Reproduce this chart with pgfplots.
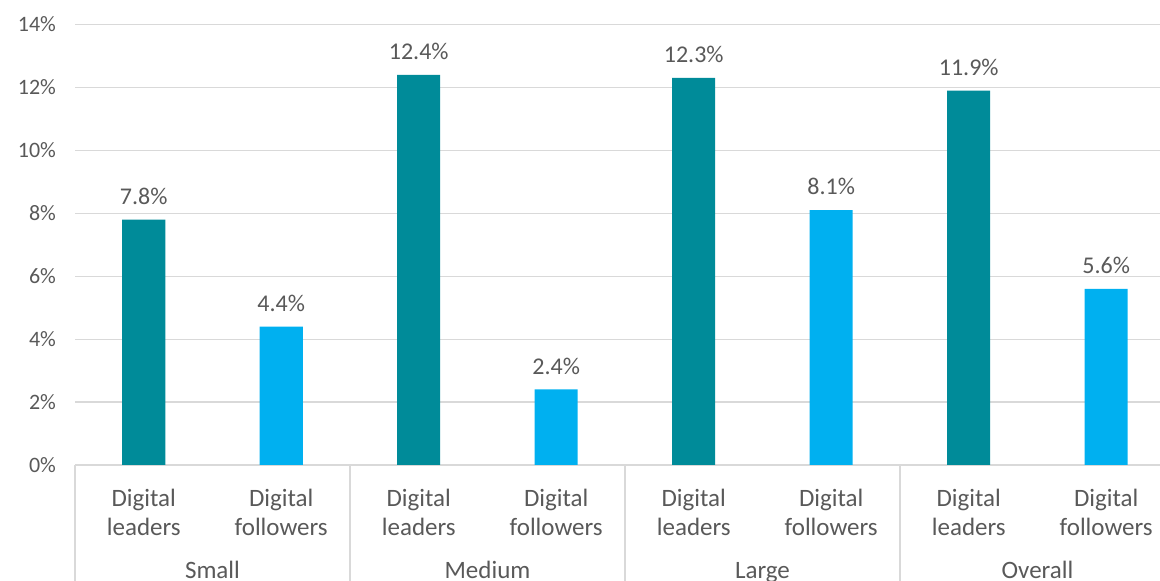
\documentclass[border=0pt]{standalone}
\usepackage{pgfplots}
\pgfplotsset{compat=1.18}
\usepackage{fontspec}
\setmainfont{Carlito}
\definecolor{teal1}{HTML}{008B99}
\definecolor{lblue}{HTML}{00B0F0}
\definecolor{gridc}{HTML}{D9D9D9}
\definecolor{txt}{HTML}{595959}
\begin{document}
\begin{tikzpicture}
\begin{axis}[
  at={(37.5pt,58pt)}, anchor=south west,
  scale only axis,
  width=542.5pt, height=220.25pt,
  xmin=-0.5, xmax=7.391,
  ymin=0, ymax=14,
  ytick={0,2,...,14},
  yticklabel={\pgfmathprintnumber{\tick}\%},
  /pgf/number format/assume math mode=true,
  yticklabel style={font=\fontsize{11}{13}\selectfont, text=txt, anchor=east, xshift=-6pt},
  ymajorgrids, grid style={gridc, line width=0.6pt},
  major tick length=0pt,
  axis x line*=bottom, axis y line*=left,
  x axis line style={gridc, line width=0.8pt, -},
  y axis line style={draw=none},
  xtick={0,...,7},
  xticklabels={{Digital\\leaders},{Digital\\followers},{Digital\\leaders},{Digital\\followers},{Digital\\leaders},{Digital\\followers},{Digital\\leaders},{Digital\\followers}},
  xticklabel style={font=\fontsize{12.5}{14.5}\selectfont, text=txt, align=center, anchor=north, yshift=-8.5pt},
  ybar, bar width=21.5pt, bar shift=0pt,
  nodes near coords={\pgfmathprintnumber[fixed,fixed zerofill,precision=1]{\pgfplotspointmeta}\%},
  nodes near coords style={font=\fontsize{12}{14}\selectfont, text=txt, anchor=south, yshift=4pt},
  clip=false,
]
\addplot[fill=teal1, draw=none] coordinates {(0,7.8) (2,12.4) (4,12.3) (6,11.9)};
\addplot[fill=lblue, draw=none] coordinates {(1,4.4) (3,2.4) (5,8.1) (7,5.6)};
\foreach \xx in {-0.5,1.5,3.5,5.5} {
  \edef\tmp{\noexpand\draw[gridc, line width=0.8pt] (axis cs:\xx,0) -- ([yshift=-70pt]axis cs:\xx,0);}
  \tmp
}
\node[font=\fontsize{12.5}{14}\selectfont, text=txt, anchor=base] at ([yshift=-57pt]axis cs:0.5,0) {Small};
\node[font=\fontsize{12.5}{14}\selectfont, text=txt, anchor=base] at ([yshift=-57pt]axis cs:2.5,0) {Medium};
\node[font=\fontsize{12.5}{14}\selectfont, text=txt, anchor=base] at ([yshift=-57pt]axis cs:4.5,0) {Large};
\node[font=\fontsize{12.5}{14}\selectfont, text=txt, anchor=base] at ([yshift=-57pt]axis cs:6.5,0) {Overall};
\end{axis}
\pgfresetboundingbox
\useasboundingbox (0,0) rectangle (580pt,290.5pt);
\end{tikzpicture}
\end{document}
